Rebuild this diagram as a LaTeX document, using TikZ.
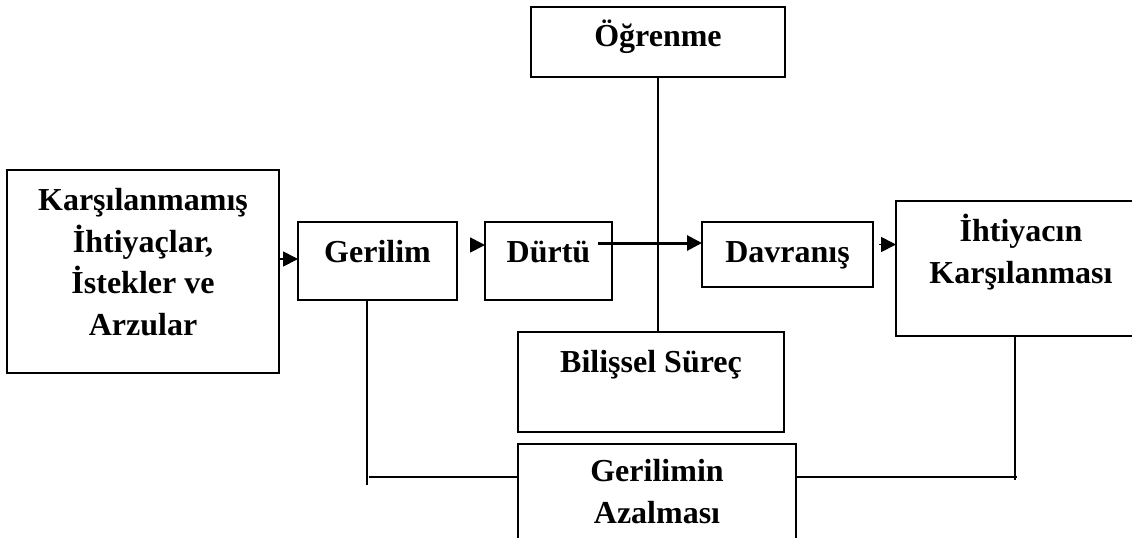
\documentclass[tikz,border=0pt]{standalone}
\usepackage{fontspec}
\setmainfont{Liberation Serif}
\usetikzlibrary{arrows.meta}

\begin{document}
\begin{tikzpicture}[x=0.5pt,y=-0.5pt,
  box/.style={draw,line width=1pt,inner sep=0pt,outer sep=0pt,anchor=north west,align=center,font=\fontsize{16}{20.7}\selectfont\bfseries},
  arr/.style={line width=0.9pt,-{Triangle[length=7.5pt,width=7.5pt]}},
  link/.style={line width=0.9pt}
]
\useasboundingbox (0,0) rectangle (1132,537);
\clip (0,0) rectangle (1132,537);
\node[box,minimum width=127pt,text height=19.5pt,text depth=15.5pt] (ogr) at (531,7) {Öğrenme};
\node[box,minimum width=136pt,text height=82.5pt,text depth=19pt] (karsi) at (7,170) {Karşılanmamış\\İhtiyaçlar,\\İstekler ve\\Arzular};
\node[box,minimum width=79.5pt,text height=20pt,text depth=19pt] (ger) at (298,222) {Gerilim};
\node[box,minimum width=63.5pt,text height=20pt,text depth=19pt] (durtu) at (485,222) {Dürtü};
\node[box,minimum width=85.5pt,text height=20pt,text depth=12.5pt] (davr) at (702,222) {Davranış};
\node[box,minimum width=125pt,text height=41pt,text depth=26.5pt] (iht) at (896,201) {İhtiyacın\\Karşılanması};
\node[box,minimum width=133pt,text height=20pt,text depth=30pt] (bil) at (518,332) {Bilişsel Süreç};
\node[box,minimum width=139pt,text height=39.5pt,text depth=40pt] (gaz) at (518,444) {Gerilimin\\Azalması};

\coordinate (lv) at (367,485);
\coordinate (lh) at (369,477);
\coordinate (rv) at (1015,480);
\coordinate (rh) at (1017,477);

\draw[arr] ([yshift=1pt]ger.west -| karsi.east) -- ([yshift=1pt]ger.west);
\draw[arr,shorten <=6.5pt] ([yshift=8pt]ger.east) -- ([yshift=8pt]ger.east -| durtu.west);
\draw[arr,line width=1.5pt] ([shift={(-7pt,9pt)}]durtu.east) -- ([yshift=9pt]durtu.east -| davr.west);
\draw[arr,shorten <=3pt] ([yshift=5pt]davr.east) -- ([yshift=5pt]davr.east -| iht.west);
\draw[link] (ogr.south) -- (ogr.south |- bil.north);
\draw[link] (ger.south -| lv) -- (lv);
\draw[link] (gaz.west |- lh) -- (lh);
\draw[link] (iht.south -| rv) -- (rv);
\draw[link] (gaz.east |- rh) -- (rh);
\end{tikzpicture}
\end{document}
